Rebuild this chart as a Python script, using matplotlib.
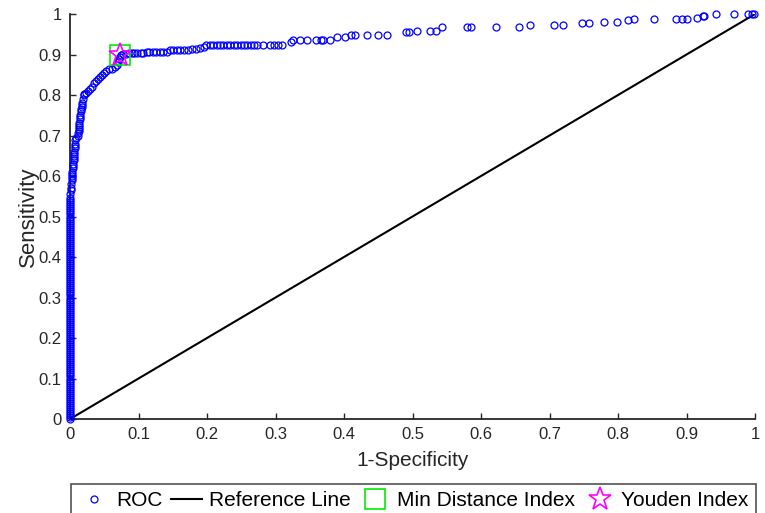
import matplotlib.pyplot as plt

plt.rcParams['font.family'] = ['Liberation Sans', 'DejaVu Sans']

# ROC points (1-specificity, sensitivity)
roc_fpr = [0.000, 0.000, 0.000, 0.000, 0.000, 0.000, 0.000, 0.000, 0.000, 0.000,
           0.000, 0.000, 0.000, 0.000, 0.000, 0.000, 0.000, 0.000, 0.000, 0.000,
           0.000, 0.000, 0.000, 0.000, 0.000, 0.000, 0.000, 0.000, 0.000, 0.000,
           0.000, 0.000, 0.000, 0.000, 0.000, 0.000, 0.000, 0.000, 0.000, 0.000,
           0.000, 0.000, 0.000, 0.000, 0.000, 0.000, 0.000, 0.000, 0.000, 0.000,
           0.000, 0.000, 0.000, 0.000, 0.000, 0.000, 0.000, 0.000, 0.000, 0.000,
           0.000, 0.000, 0.000, 0.000, 0.000, 0.000, 0.000, 0.000, 0.000, 0.000,
           0.000, 0.000, 0.000, 0.000, 0.000, 0.000, 0.000, 0.000, 0.000, 0.000,
           0.000, 0.000, 0.000, 0.000, 0.000, 0.000, 0.000, 0.000, 0.000, 0.000,
           0.000, 0.000, 0.000, 0.000, 0.000, 0.000, 0.000, 0.000, 0.000, 0.000,
           0.000, 0.000, 0.000, 0.000, 0.000, 0.000, 0.000, 0.000, 0.000, 0.000,
           0.000, 0.001, 0.001, 0.001, 0.003, 0.003, 0.003, 0.003, 0.003, 0.004,
           0.004, 0.004, 0.006, 0.006, 0.006, 0.006, 0.006, 0.007, 0.007, 0.007,
           0.007, 0.009, 0.012, 0.012, 0.013, 0.013, 0.013, 0.013, 0.013, 0.015,
           0.015, 0.015, 0.016, 0.016, 0.018, 0.018, 0.018, 0.019, 0.020, 0.021,
           0.023, 0.026, 0.029, 0.032, 0.035, 0.038, 0.041, 0.044, 0.047, 0.050,
           0.053, 0.057, 0.061, 0.065, 0.068, 0.070, 0.072, 0.073, 0.074, 0.078,
           0.082,
           0.086, 0.090, 0.094, 0.098, 0.103, 0.107, 0.112, 0.116, 0.121, 0.126,
           0.131, 0.136, 0.141,
           0.146, 0.151, 0.156, 0.161, 0.167, 0.172, 0.178, 0.184, 0.190, 0.195,
           0.199, 0.204, 0.209, 0.214, 0.219, 0.224, 0.229, 0.234, 0.239, 0.244,
           0.249, 0.254, 0.259, 0.264, 0.269, 0.273, 0.282, 0.292, 0.298, 0.304,
           0.310,
           0.322, 0.325, 0.336, 0.346, 0.359, 0.367, 0.369, 0.380, 0.390, 0.401,
           0.410, 0.416, 0.433, 0.449, 0.463, 0.491, 0.495, 0.507, 0.525, 0.534,
           0.543, 0.579, 0.586, 0.622, 0.655, 0.672, 0.707, 0.719, 0.748, 0.758,
           0.779, 0.799, 0.814, 0.823, 0.853, 0.884, 0.893, 0.901, 0.915, 0.924,
           0.926, 0.943, 0.969, 0.990, 0.995, 0.999]
roc_tpr = [0.000, 0.005, 0.010, 0.015, 0.020, 0.025, 0.030, 0.035, 0.040, 0.045,
           0.050, 0.055, 0.060, 0.065, 0.070, 0.075, 0.080, 0.085, 0.090, 0.095,
           0.100, 0.105, 0.110, 0.115, 0.120, 0.125, 0.130, 0.135, 0.140, 0.145,
           0.150, 0.155, 0.160, 0.165, 0.170, 0.175, 0.180, 0.185, 0.190, 0.195,
           0.200, 0.205, 0.210, 0.215, 0.220, 0.225, 0.230, 0.235, 0.240, 0.245,
           0.250, 0.255, 0.260, 0.265, 0.270, 0.275, 0.280, 0.285, 0.290, 0.295,
           0.300, 0.305, 0.310, 0.315, 0.320, 0.325, 0.330, 0.335, 0.340, 0.345,
           0.350, 0.355, 0.360, 0.365, 0.370, 0.375, 0.380, 0.385, 0.390, 0.395,
           0.400, 0.405, 0.410, 0.415, 0.420, 0.425, 0.430, 0.435, 0.440, 0.445,
           0.450, 0.455, 0.460, 0.465, 0.470, 0.475, 0.480, 0.485, 0.490, 0.495,
           0.500, 0.505, 0.510, 0.515, 0.520, 0.525, 0.530, 0.535, 0.540, 0.545,
           0.555, 0.565, 0.570, 0.580, 0.590, 0.595, 0.600, 0.605, 0.610, 0.620,
           0.625, 0.630, 0.640, 0.645, 0.650, 0.655, 0.660, 0.670, 0.675, 0.680,
           0.690, 0.695, 0.700, 0.705, 0.710, 0.715, 0.720, 0.725, 0.730, 0.740,
           0.745, 0.750, 0.760, 0.765, 0.770, 0.775, 0.780, 0.790, 0.800, 0.803,
           0.805, 0.810, 0.815, 0.820, 0.830, 0.835, 0.840, 0.845, 0.850, 0.855,
           0.860, 0.865, 0.865, 0.868, 0.874, 0.882, 0.889, 0.895, 0.900, 0.901,
           0.902,
           0.903, 0.903, 0.903, 0.904, 0.904, 0.904, 0.905, 0.905, 0.905, 0.906,
           0.906, 0.906, 0.907,
           0.911, 0.911, 0.911, 0.912, 0.912, 0.912, 0.913, 0.914, 0.915, 0.918,
           0.923, 0.923, 0.923, 0.923, 0.923, 0.923, 0.923, 0.923, 0.923, 0.923,
           0.923, 0.923, 0.923, 0.923, 0.923, 0.923, 0.923, 0.923, 0.923, 0.923,
           0.923,
           0.932, 0.937, 0.937, 0.937, 0.937, 0.937, 0.937, 0.937, 0.942, 0.942,
           0.949, 0.949, 0.949, 0.949, 0.949, 0.955, 0.955, 0.959, 0.959, 0.959,
           0.969, 0.969, 0.969, 0.969, 0.969, 0.973, 0.973, 0.973, 0.977, 0.977,
           0.980, 0.980, 0.985, 0.987, 0.987, 0.987, 0.987, 0.987, 0.991, 0.995,
           0.995, 1.000, 1.000, 1.000, 1.000, 1.000]

ref_x = [0, 1]
ref_y = [0, 1]

# optimal operating points
min_dist_pt = (0.073, 0.900)
youden_pt = (0.073, 0.900)

xticks = [0, 0.1, 0.2, 0.3, 0.4, 0.5, 0.6, 0.7, 0.8, 0.9, 1]
tick_labels = ['0', '0.1', '0.2', '0.3', '0.4', '0.5', '0.6', '0.7', '0.8', '0.9', '1']

axis_col = '#262626'

fig = plt.figure(figsize=(7.65, 5.13), dpi=100)
ax = fig.add_axes([0.0915, 0.1832, 0.8955, 0.7895])

ax.plot(roc_fpr, roc_tpr, 'o', color='#0000ff', markerfacecolor='none',
        markersize=5, markeredgewidth=0.9, clip_on=False, zorder=5, label='ROC')
ax.plot(ref_x, ref_y, '-', color='black', linewidth=1.5, zorder=4, label='Reference Line')
ax.plot(min_dist_pt[0], min_dist_pt[1], 's', color='#00ee00', markerfacecolor='none',
        markersize=14, markeredgewidth=1.2, zorder=6, label='Min Distance Index')
ax.plot(youden_pt[0], youden_pt[1], '*', color='#ff00ff', markerfacecolor='none',
        markersize=17, markeredgewidth=1.2, zorder=7, label='Youden Index')

ax.set_xlim(0, 1)
ax.set_ylim(0, 1)
ax.set_xticks(xticks)
ax.set_xticklabels(tick_labels)
ax.set_yticks(xticks)
ax.set_yticklabels(tick_labels)

for side in ['top', 'right']:
    ax.spines[side].set_visible(False)
for side in ['left', 'bottom']:
    ax.spines[side].set_linewidth(1.3)
    ax.spines[side].set_color(axis_col)

ax.tick_params(direction='in', length=4, width=1, colors=axis_col,
               labelsize=12, pad=6)

ax.set_xlabel('1-Specificity', fontsize=15, color=axis_col, labelpad=6)
ax.set_ylabel('Sensitivity', fontsize=16, color=axis_col, labelpad=0)

# legend sits under the axes, its lower edge runs off the figure
leg = ax.legend(ncol=4, loc='upper left', bbox_to_anchor=(0.0015, -0.30, 1.0, 0.14),
                mode='expand', fontsize=15, frameon=True, fancybox=False,
                borderaxespad=0, handlelength=1.5, handletextpad=0.3,
                columnspacing=0.6, borderpad=0.35)
leg.get_frame().set_edgecolor(axis_col)
leg.get_frame().set_linewidth(1.2)

plt.savefig('out.png', dpi=100)
plt.close()
